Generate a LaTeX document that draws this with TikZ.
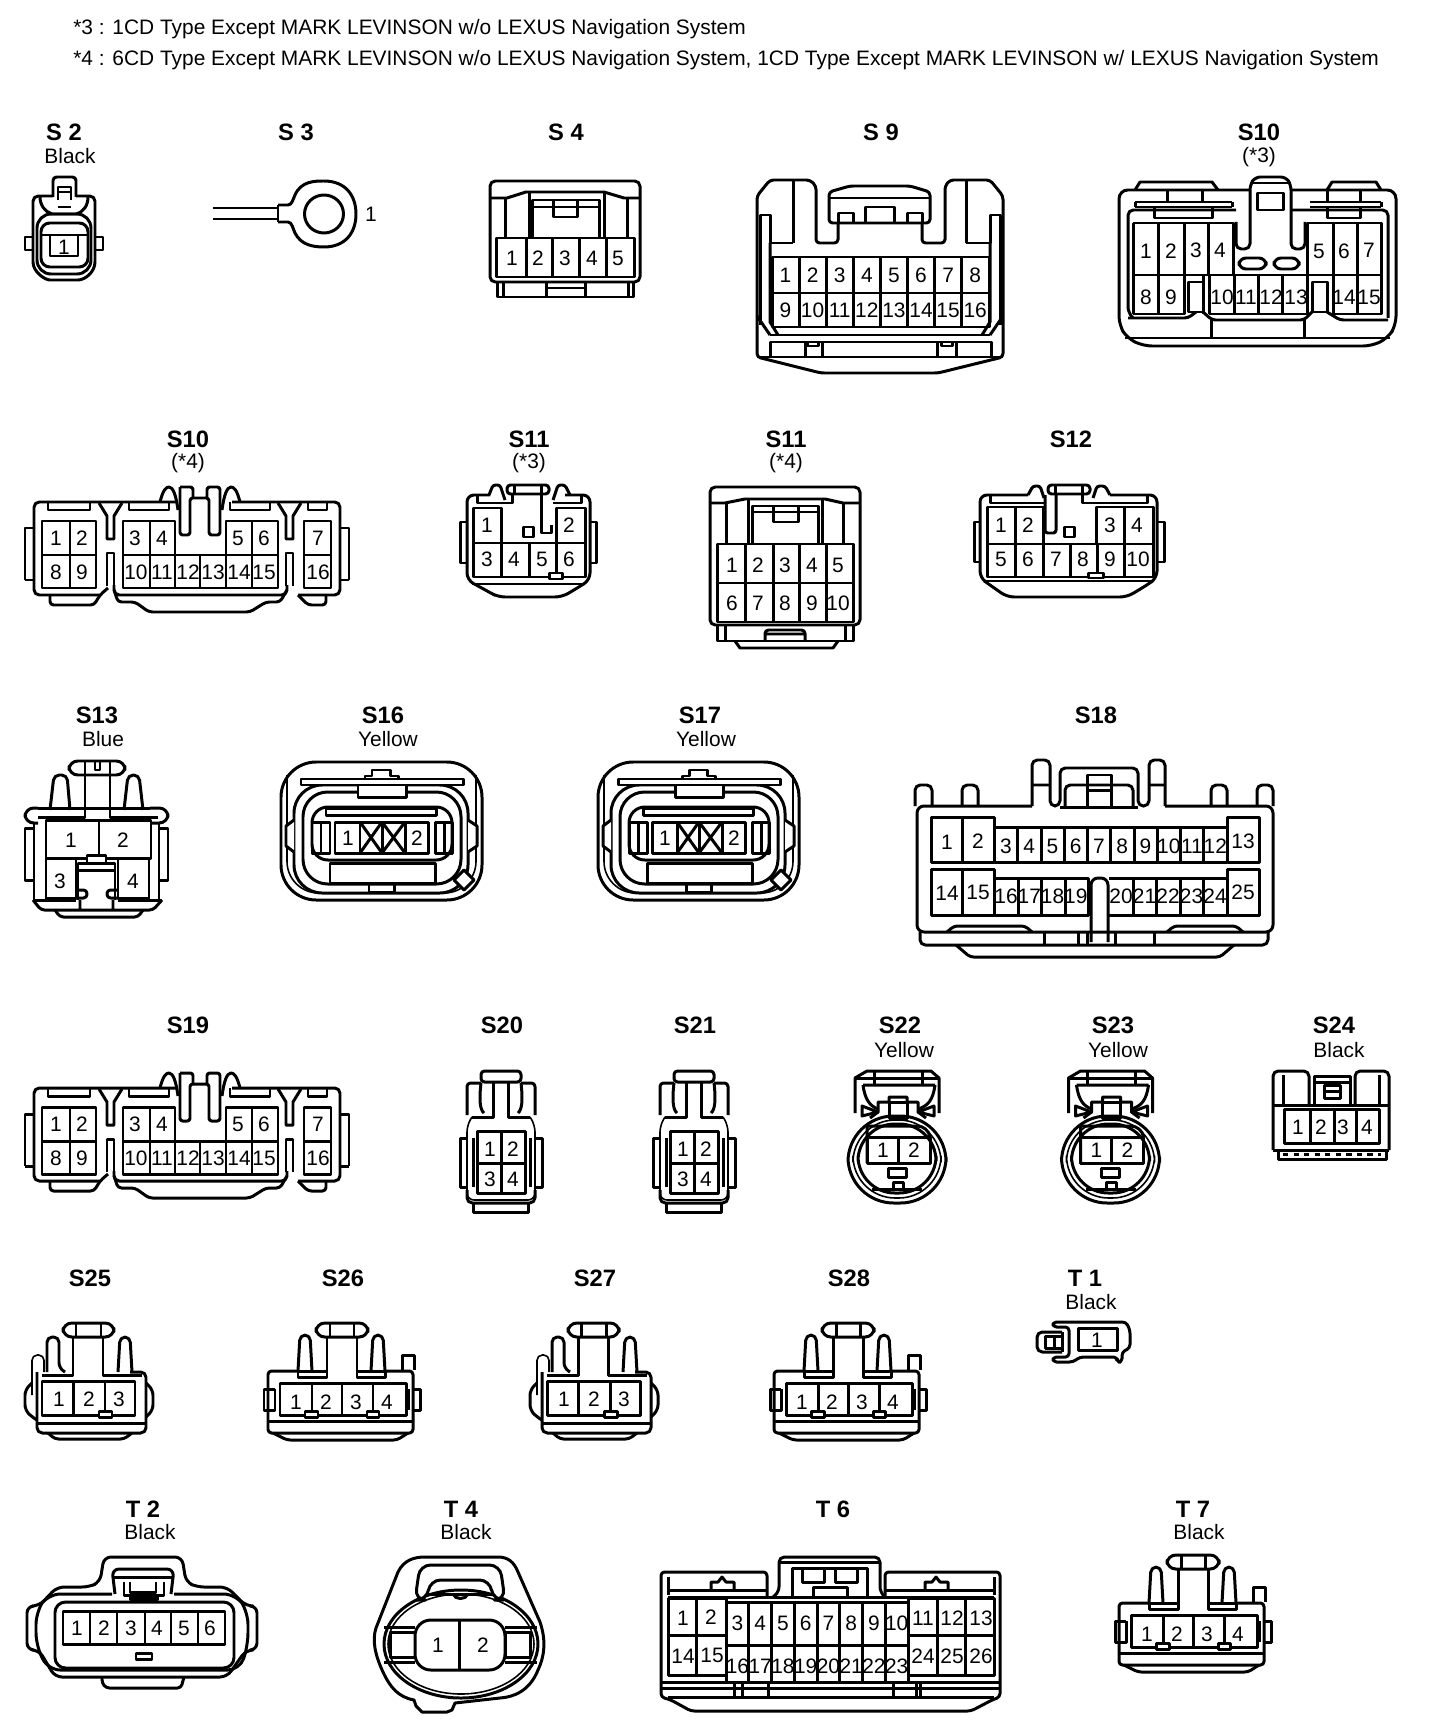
\documentclass[tikz,border=0pt]{standalone}
\usepackage{fontspec}
\setmainfont{Liberation Sans}
\newcommand{\pinfont}{\fontsize{11.9}{13}\selectfont}
\newcommand{\headfont}{\fontsize{13.5}{15}\selectfont\bfseries}
\tikzset{
	wall/.style={line width=1.7pt,line join=round},
	trim/.style={line width=0.9pt,line join=round},
	pin/.style={font=\pinfont,inner sep=0pt},
	head/.style={font=\headfont,inner sep=0pt},
	% 16 way connector, S10 (*4) and S19
	pics/sixteenway/.style={code={
		\draw[wall,rounded corners=3pt] (100,595) -- (34,595) -- (34,502) -- (177,502);
		\draw[wall,rounded corners=3pt] (232,502) -- (340,502) -- (340,595) -- (298,595);
		\draw[wall] (25,580) -- (25,528) -- (34,528) (25,580) -- (34,580);
		\draw[wall] (349,580) -- (349,528) -- (340,528) (349,580) -- (340,580);
		\draw[wall,rounded corners=1.5pt] (180,487) -- (180,535) -- (190,535) -- (190,498) -- (209,498) -- (209,535) -- (220,535) -- (220,487) -- (207,487) -- (207,498);
		\draw[wall,rounded corners=1.5pt] (180,487) -- (193,487) -- (193,498);
		\draw[wall] (160,502) .. controls (163,490) and (166,487) .. (169,487) .. controls (173,487) and (176,495) .. (178,510);
		\draw[wall] (240,502) .. controls (237,490) and (234,487) .. (231,487) .. controls (227,487) and (224,495) .. (222,510);
		\foreach \a/\b in {48/90,129/169,230/270,308/327}
			\draw[wall] (\a,502) -- (\a,510) -- (\b,510) -- (\b,502);
		\foreach \a in {107,286} {
			\draw[wall] (\a-8,503) -- (\a,516) -- (\a,539) -- (\a+7,539) -- (\a+7,516) -- (\a+15,503);
			\draw[wall] (\a,586) -- (\a,553) -- (\a+7,553) -- (\a+7,586);
		}
		\draw[wall] (42,521) rectangle (96,588) (42,555) -- (96,555) (70,521) -- (70,588);
		\draw[wall] (175,555) -- (175,521) -- (123,521) -- (123,588) -- (278,588) -- (278,521) -- (226,521) -- (226,555);
		\draw[wall] (123,555) -- (278,555);
		\foreach \a in {150,252} \draw[wall] (\a,521) -- (\a,588);
		\foreach \a in {175,200,226} \draw[wall] (\a,555) -- (\a,588);
		\draw[wall] (304,521) rectangle (331,588) (304,555) -- (331,555);
		\draw[wall,rounded corners=3pt] (114,585) -- (114,595) -- (287,595) -- (287,585);
		\draw[wall,rounded corners=2pt] (50,595) -- (50,605) -- (94,605) -- (100,595) -- (108,588);
		\draw[wall,rounded corners=2pt] (114,590) -- (118,602) -- (135,602) -- (149,612) -- (250,612) -- (266,602) -- (280,602) -- (287,590);
		\draw[wall,rounded corners=2pt] (298,595) -- (308,605) -- (326,605) -- (326,595);
		\foreach \n/\a/\b in {1/56/538,2/82/538,3/135/538,4/162/538,5/238/538,6/264/538,7/318/538,
			8/56/572,9/82/572,10/136/572,11/162/572,12/188/572,13/213/572,14/239/572,15/264/572,16/318/572}
			\node[pin] (p\n) at (\a,\b) {\n};
	}},
	% small 4 way, S20 and S21
	pics/fourway/.style={code={
		\draw[wall,rounded corners=2pt] (481,1071) rectangle (521,1082);
		\draw[wall,rounded corners=2pt] (467,1115) -- (467,1083) -- (481,1083);
		\draw[wall,rounded corners=2pt] (535,1115) -- (535,1083) -- (521,1083);
		\draw[wall] (481,1083) .. controls (479,1100) and (480,1110) .. (484,1113);
		\draw[wall] (521,1083) .. controls (523,1100) and (522,1110) .. (518,1113);
		\draw[wall] (493,1082) -- (493,1117) -- (472,1117);
		\draw[wall] (508,1082) -- (508,1117) -- (530,1117);
		\draw[trim,rounded corners=4pt] (530,1117) -- (535,1125) -- (535,1200) -- (467,1200) -- (467,1125) -- (472,1117);
		\draw[wall] (467,1187) -- (460,1187) -- (460,1138) -- (467,1138) (535,1187) -- (542,1187) -- (542,1138) -- (535,1138);
		\draw[wall] (473,1138) -- (473,1187) (530,1138) -- (530,1187);
		\draw[wall] (477,1131) rectangle (525,1193) (477,1163) -- (525,1163) (501,1131) -- (501,1193);
		\draw[wall,rounded corners=3pt] (467,1190) -- (467,1203) -- (535,1203) -- (535,1190);
		\draw[wall] (473,1203) -- (473,1212) -- (528,1212) -- (528,1203);
		\foreach \n/\a/\b in {1/490/1149,2/513/1149,3/490/1179,4/513/1179}
			\node[pin] (p\n) at (\a,\b) {\n};
	}},
	% oval 2 way, S22 and S23
	pics/twoway/.style={code={
		\draw[wall] (855,1113) -- (855,1078) -- (867,1071) -- (931,1071) -- (939,1078) -- (939,1113);
		\draw[wall] (855,1078) -- (939,1078) (874,1071) -- (874,1084) (922,1071) -- (922,1084);
		\draw[wall] (863,1085) .. controls (865,1100) and (870,1106) .. (878,1109) (935,1085) .. controls (933,1100) and (928,1106) .. (918,1109) (863,1085) -- (935,1085);
		\draw[wall] (870,1118) -- (878,1112) -- (878,1102) -- (889,1102) -- (889,1097) -- (907,1097) -- (907,1102) -- (918,1102) -- (918,1112) -- (926,1118);
		\draw[wall] (889,1102) rectangle (907,1118);
		\draw[wall] (862,1106) -- (878,1112) -- (862,1116) -- cycle (934,1106) -- (918,1112) -- (934,1116) -- cycle;
		\draw[wall,rounded corners=26pt] (848,1116) rectangle (946,1203);
		\draw[trim,rounded corners=24pt] (853,1120) rectangle (941,1198);
		\draw[wall,rounded corners=21pt] (858,1124) rectangle (936,1193);
		\draw[wall,rounded corners=6pt] (867,1126) -- (928,1126) -- (930,1137) (867,1126) -- (867,1163);
		\draw[wall] (867,1137) rectangle (930,1163) (898,1137) -- (898,1163);
		\draw[wall] (888,1168) rectangle (906,1177);
		\draw[wall] (893,1190) -- (893,1182) -- (903,1182) -- (903,1190);
		\draw[wall] (872,1189) -- (922,1189);
		\node[pin] (p1) at (883,1150) {1};
		\node[pin] (p2) at (914,1150) {2};
	}},
	% 3 way, S25 and S27
	pics/threeway/.style={code={
		\draw[wall,rounded corners=5pt] (63,1323) rectangle (114,1337);
		\draw[wall] (76,1323) -- (76,1337) (101,1323) -- (101,1337);
		\draw[wall] (73,1336) -- (73,1375) -- (42,1375) (103,1336) -- (103,1375) -- (142,1375);
		\draw[wall,rounded corners=3pt] (47,1372) -- (47,1337) -- (59,1337) -- (59,1368) -- (65,1372);
		\draw[wall,rounded corners=3pt] (118,1372) -- (120,1337) -- (130,1337) -- (132,1372);
		\draw[trim,rounded corners=3pt] (32,1395) -- (32,1355) -- (44,1355) -- (44,1372);
		\draw[wall,rounded corners=3pt] (37,1372) -- (37,1433) -- (146,1433) -- (146,1372) -- (130,1372);
		\draw[wall,rounded corners=3pt] (32,1383) -- (25,1390) -- (25,1410) -- (32,1417) -- (37,1420);
		\draw[wall,rounded corners=3pt] (146,1383) -- (153,1390) -- (153,1410) -- (146,1417);
		\draw[wall] (42,1381) rectangle (135,1415) (73.5,1381) -- (73.5,1415) (105,1381) -- (105,1415);
		\draw[wall,fill=white] (99,1411) rectangle (112,1417);
		\draw[wall] (37,1423) -- (146,1423);
		\draw[wall,rounded corners=2pt] (48,1433) -- (55,1439) -- (124,1439) -- (132,1433);
		\node[pin] (p1) at (59,1399) {1};
		\node[pin] (p2) at (89,1399) {2};
		\node[pin] (p3) at (119,1399) {3};
	}},
	% 4 way with corner post, S26, S28 and T 7
	pics/postfour/.style={code={
		\draw[wall,rounded corners=5pt] (316,1323) rectangle (368,1337);
		\draw[wall] (330,1323) -- (330,1337) (354,1323) -- (354,1337);
		\draw[wall] (327,1336) -- (327,1377) -- (298,1377) -- (298,1371) -- (327,1371);
		\draw[wall] (357,1336) -- (357,1377) -- (385,1377) -- (385,1371) -- (357,1371);
		\draw[wall,rounded corners=3pt] (298,1371) -- (300,1335) -- (310,1335) -- (312,1371);
		\draw[wall,rounded corners=3pt] (371,1371) -- (373,1335) -- (383,1335) -- (385,1371);
		\draw[wall] (402,1370) -- (402,1355) -- (414,1355) -- (414,1370);
		\draw[wall,rounded corners=2pt] (298,1371) -- (268,1371) -- (268,1433) -- (413,1433) -- (413,1371) -- (385,1371);
		\draw[wall] (268,1389) -- (264,1389) -- (264,1410) -- (268,1410) (275,1389) -- (268,1389) (275,1389) -- (275,1410) -- (268,1410);
		\draw[wall] (413,1389) -- (420,1389) -- (420,1410) -- (413,1410) (408,1389) -- (408,1410);
		\draw[wall] (280,1383) rectangle (406,1415) (312,1383) -- (312,1415) (342,1383) -- (342,1415) (373,1383) -- (373,1415);
		\draw[wall,fill=white] (305,1411) rectangle (318,1417) (367,1411) rectangle (379,1417);
		\draw[wall] (268,1421) -- (413,1421);
		\draw[wall,rounded corners=2pt] (273,1433) -- (287,1440) -- (397,1440) -- (408,1433);
		\foreach \n/\a in {1/296,2/326,3/356,4/387}
			\node[pin] (p\n) at (\a,1402) {\n};
	}},
	% sealed 2 way with blanked cavities, S16 and S17
	pics/sealedtwo/.style={code={
		\draw[wall,rounded corners=20pt] (281,762) rectangle (482,900);
		\draw[trim,rounded corners=18pt] (287,775) -- (287,893) -- (476,893) -- (476,775);
		\draw[wall,rounded corners=16pt] (294,785) rectangle (468,893);
		\draw[wall,fill=white] (294,820) -- (286,826) -- (286,846) -- (294,852) (468,820) -- (477,826) -- (477,846) -- (468,852);
		\draw[wall,rounded corners=14pt] (303,792) rectangle (461,884);
		\draw[wall,rounded corners=9pt] (312,807) rectangle (452,860);
		\draw[wall,fill=white] (330,863) rectangle (435,883);
		\draw[wall] (369,883) -- (369,892) -- (394,892) -- (394,883);
		\draw[wall,fill=white] (301,785) rectangle (463,779);
		\draw[wall,fill=white] (358,785) rectangle (406,797);
		\draw[wall] (365,779) -- (365,776) -- (372,776) -- (372,770) -- (390,770) -- (390,776) -- (398,776) -- (398,779);
		\draw[wall] (326,808) rectangle (436,815);
		\draw[wall] (335,822) rectangle (428,853) (360,822) -- (360,853) (382,822) -- (382,853) (405,822) -- (405,853);
		\draw[wall] (360,822) -- (382,853) (360,853) -- (382,822) (382,822) -- (405,853) (382,853) -- (405,822);
		\draw[wall] (312,822) rectangle (330,853) (321,822) -- (321,853) (435,822) rectangle (452,853) (444,822) -- (444,853);
		\draw[wall,fill=white] (464,870) -- (474,880) -- (464,890) -- (454,880) -- cycle;
		\node[pin] (p1) at (348,838) {1};
		\node[pin] (p2) at (417,838) {2};
	}}
}
\begin{document}
\begin{tikzpicture}[x=0.02cm,y=-0.02cm]
	\useasboundingbox (0,0) rectangle (1440,1736);

	\node[pin,anchor=west] (note3) at (73,29) {*3 : 1CD Type Except MARK LEVINSON w/o LEXUS Navigation System};
	\node[pin,anchor=west] (note4) at (73,60) {*4 : 6CD Type Except MARK LEVINSON w/o LEXUS Navigation System, 1CD Type Except MARK LEVINSON w/ LEXUS Navigation System};

	% names of the connectors
	\foreach \id/\txt/\a/\b in {s2/S 2/64/132,s3/S 3/296/132,s4/S 4/566/132,s9/S 9/881/132,s10a/S10/1259/132,
		s10b/S10/188/439,s11a/S11/529/439,s11b/S11/786/439,s12/S12/1071/439,
		s13/S13/97/715,s16/S16/383/715,s17/S17/700/715,s18/S18/1096/715,
		s19/S19/188/1025,s20/S20/502/1025,s21/S21/695/1025,s22/S22/900/1025,s23/S23/1113/1025,s24/S24/1334/1025,
		s25/S25/90/1278,s26/S26/343/1278,s27/S27/595/1278,s28/S28/849/1278,t1/T 1/1085/1278,
		t2/T 2/143/1509,t4/T 4/461/1509,t6/T 6/833/1509,t7/T 7/1193/1509}
		\node[head] (\id) at (\a,\b) {\txt};
	\foreach \id/\txt/\a/\b in {s2c/Black/70/156,s10c/(*3)/1259/157,s10d/(*4)/188/463,s11c/(*3)/529/463,s11d/(*4)/786/463,
		s13c/Blue/103/739,s16c/Yellow/388/739,s17c/Yellow/706/739,s22c/Yellow/904/1050,s23c/Yellow/1118/1050,s24c/Black/1339/1050,
		t1c/Black/1091/1302,t2c/Black/150/1532,t4c/Black/466/1532,t7c/Black/1199/1532}
		\node[pin] (\id) at (\a,\b) {\txt};

	% S 2
	\draw[wall,rounded corners=2pt] (53,197) -- (53,177) -- (76,177) -- (76,197);
	\draw[wall] (58,200) -- (58,187) -- (71,187) -- (71,200) (58,192) -- (71,192) (58,207) -- (71,207);
	\draw[wall,rounded corners=3pt] (33,262) -- (33,196) -- (53,196) (76,196) -- (95,196) -- (95,262);
	\draw[wall] (33,262) .. controls (33,272) and (45,280) .. (50,280) -- (78,280) .. controls (85,280) and (95,272) .. (95,262);
	\draw[wall] (40,197) .. controls (40,205) and (45,212) .. (52,214) -- (76,214) .. controls (84,212) and (88,205) .. (88,197);
	\draw[wall,rounded corners=8pt] (37,214) rectangle (91,274);
	\draw[wall,rounded corners=5pt] (41,223) rectangle (88,267);
	\draw[wall] (41,235) -- (88,235) (50,235) rectangle (78,256);
	\draw[wall] (33,237) -- (25,237) -- (25,250) -- (33,250) (95,237) -- (103,237) -- (103,250) -- (95,250);
	\node[pin] (s2p1) at (64,247) {1};

	% S 3
	\draw[wall] (213,208) -- (278,208) (213,219) -- (278,219);
	\draw[wall] (278,205) -- (278,222);
	\draw[wall] (278,205) -- (288,205) .. controls (292,205) and (293,199) .. (295,195) .. controls (301,181) and (315,181) .. (324,181) .. controls (345,181) and (356,195) .. (356,214) .. controls (356,233) and (345,247) .. (324,247) .. controls (313,247) and (301,245) .. (295,233) .. controls (293,229) and (292,222) .. (288,222) -- (278,222);
	\draw[wall] (324,214) ellipse [x radius=19.5,y radius=19];
	\node[pin] (s3p1) at (371,214) {1};

	% S 4
	\draw[wall,rounded corners=3pt] (490,282) -- (490,181) -- (640,181) -- (640,282) -- cycle;
	\draw[wall] (490,198) -- (507,198) -- (526,192) -- (604,192) -- (624,198) -- (640,198);
	\draw[wall] (505,198) -- (505,238) (529,192) -- (529,238) (604,192) -- (604,238) (627,198) -- (627,238);
	\draw[wall] (532,238) -- (532,200) -- (599,200) -- (599,238) (532,207) -- (599,207);
	\draw[wall] (553,200) -- (553,217) -- (577,217) -- (577,200);
	\draw[wall] (496,238) rectangle (634,277);
	\foreach \a in {526,552,579,606} \draw[wall] (\a,238) -- (\a,277);
	\draw[wall] (497,282) -- (497,297) -- (633,297) -- (633,282) (503,282) -- (503,297) (628,282) -- (628,297);
	\draw[wall] (546,282) -- (546,297) (585,282) -- (585,297) (546,288) -- (585,288);
	\foreach \n/\a in {1/512,2/538,3/565,4/592,5/618}
		\node[pin] (s4p\n) at (\a,258) {\n};

	% S 9
	\draw[wall,rounded corners=2pt] (757,345) -- (757,196) -- (770,180) -- (810,180) -- (816,186) -- (816,243) -- (838,243) -- (838,223);
	\draw[wall,rounded corners=2pt] (1003,345) -- (1003,196) -- (990,180) -- (950,180) -- (945,186) -- (945,243) -- (922,243) -- (922,223);
	\draw[wall] (793,180) -- (793,243) (966,180) -- (966,243);
	\draw[wall,rounded corners=2pt] (829,223) -- (829,192) -- (850,186) -- (910,186) -- (930,192) -- (930,223) -- cycle;
	\draw[wall] (829,198) -- (930,198) (865,223) -- (865,207) -- (894,207) -- (894,223);
	\draw[wall] (838,223) -- (838,213) -- (853,213) -- (853,223) (907,223) -- (907,213) -- (922,213) -- (922,223);
	\draw[wall] (760,325) -- (760,215) -- (770,215) -- (770,243) -- (793,243) (1000,325) -- (1000,215) -- (990,215) -- (990,243) -- (966,243);
	\draw[wall] (770,243) -- (770,322) -- (778,335) (990,243) -- (990,322) -- (982,335) (757,316) -- (770,335) (1003,316) -- (990,335);
	\draw[wall] (772,257) rectangle (989,327) (772,293) -- (989,293);
	\foreach \i in {1,...,7} \draw[wall] ({772+27.1*\i},257) -- ({772+27.1*\i},327);
	\draw[wall] (770,335) -- (990,335) (770,342) -- (990,342);
	\draw[wall] (770,342) rectangle (805,357) (822,342) rectangle (937,357) (956,342) rectangle (991,357);
	\draw[wall] (807,346) rectangle (818,342) (941,346) rectangle (952,342);
	\draw[wall,rounded corners=2pt] (757,345) -- (757,357) -- (821,373) -- (938,373) -- (1003,357) -- (1003,345);
	\draw[wall] (757,357) -- (1003,357);
	\foreach \n [count=\i from 0] in {1,...,8}
		\node[pin] (s9p\n) at ({785.5+27.1*\i},275) {\n};
	\foreach \n [count=\i from 0] in {9,...,16}
		\node[pin] (s9p\n) at ({785.5+27.1*\i},310) {\n};

	% S10 (*3)
	\draw[wall,rounded corners=5pt] (1250,190) -- (1119,190) -- (1119,325) -- (1127,338) -- (1143,346) -- (1372,346) -- (1388,338) -- (1396,325) -- (1396,190) -- (1291,190);
	\draw[wall] (1135,190) -- (1140,182) -- (1212,182) -- (1218,190) (1327,190) -- (1332,182) -- (1376,182) -- (1381,190);
	\draw[wall] (1167,190) -- (1167,202) (1202,190) -- (1202,202) (1327,190) -- (1327,202) (1360,190) -- (1360,202);
	\draw[wall] (1135,202) -- (1232,202) (1135,207) -- (1232,207) (1135,202) -- (1135,207) (1232,202) -- (1232,207);
	\draw[wall] (1310,202) -- (1381,202) (1310,207) -- (1381,207) (1381,202) -- (1381,207);
	\draw[wall] (1154,207) -- (1154,218) -- (1212,218) -- (1212,207) (1327,207) -- (1327,218) -- (1360,218) -- (1360,207);
	\draw[wall,rounded corners=3pt] (1236,222) -- (1236,249) -- (1250,249) -- (1250,185) -- (1255,177) -- (1286,177) -- (1291,185) -- (1291,249) -- (1305,249) -- (1305,222);
	\draw[wall] (1250,183) -- (1291,183) (1257,193) rectangle (1283,210);
	\draw[wall,rounded corners=3pt] (1236,210) -- (1128,210) -- (1128,312) -- (1133,318);
	\draw[wall,rounded corners=3pt] (1291,210) -- (1388,210) -- (1388,318);
	\draw[wall] (1133,223) -- (1233,223) -- (1233,275) (1158,223) -- (1158,314) (1184,223) -- (1184,275) (1208,223) -- (1208,275) (1133,223) -- (1133,314);
	\draw[wall] (1133,275) -- (1381,275) (1133,314) -- (1184,314) -- (1184,275) (1203,275) -- (1203,314) (1209,275) -- (1209,314);
	\draw[wall] (1188,282) rectangle (1203,312) (1312,282) rectangle (1327,312);
	\draw[wall] (1209,314) -- (1307,314) -- (1307,223) (1234,275) -- (1234,314) (1258,275) -- (1258,314) (1282,275) -- (1282,314);
	\draw[wall] (1307,223) -- (1381,223) -- (1381,314) -- (1333,314) -- (1333,223) (1357,223) -- (1357,314);
	\draw[wall,rounded corners=2pt] (1128,318) -- (1188,318) -- (1196,312) (1203,312) -- (1212,320) -- (1304,320) -- (1312,312) (1327,312) -- (1340,320) -- (1388,320);
	\draw[wall] (1211,320) -- (1211,338) (1304,320) -- (1304,338) (1125,338) -- (1390,338);
	\draw[wall,rounded corners=4pt] (1239,258) rectangle (1266,269) (1274,258) rectangle (1299,269);
	\foreach \n/\a/\b in {1/1146/251,2/1171/251,3/1196/250,4/1220/250,5/1319/251,6/1344/251,7/1369/250,
		8/1146/297,9/1171/297,10/1222/297,11/1246/297,12/1271/297,13/1296/297,14/1344/297,15/1369/297}
		\node[pin] (s10ap\n) at (\a,\b) {\n};

	% S10 (*4) and S19
	\pic (s10b) at (0,0) {sixteenway};
	\pic (s19) at (0,586) {sixteenway};

	% S11 (*3)
	\draw[wall,rounded corners=4pt] (490,495) -- (467,495) -- (467,580) -- (489,592) -- (498,597) -- (562,597) -- (574,590) -- (590,580) -- (590,495) -- (565,495);
	\draw[wall] (467,563) -- (460,563) -- (460,522) -- (467,522) (590,563) -- (596,563) -- (596,522) -- (590,522);
	\draw[wall,rounded corners=1.5pt] (489,495) -- (493,485) -- (500,485) -- (505,500) (553,500) -- (558,485) -- (565,485) -- (570,495);
	\draw[wall,rounded corners=2pt] (507,494) -- (507,485) -- (549,485) -- (549,494) -- cycle;
	\draw[wall] (514,485) -- (514,494) (541,485) -- (541,494);
	\draw[wall] (477,495) -- (477,503) -- (512,503) -- (512,495) (553,503) -- (581,503) -- (581,495);
	\draw[wall] (541,494) -- (541,533) -- (551,533) -- (551,525);
	\draw[wall] (473,508) rectangle (501,543) (556,508) rectangle (585,543);
	\draw[wall] (473,543) rectangle (585,577) (501,543) -- (501,577) (529,543) -- (529,577) (556,543) -- (556,577);
	\draw[wall] (523,527) rectangle (533,537);
	\draw[wall,fill=white] (549,573) rectangle (562,579);
	\draw[wall] (472,584) -- (585,584);
	\foreach \n/\a/\b in {1/487/525,2/569/525,3/487/559,4/514/559,5/542/559,6/569/559}
		\node[pin] (s11ap\n) at (\a,\b) {\n};

	% S11 (*4)
	\draw[wall,rounded corners=3pt] (710,625) -- (710,487) -- (860,487) -- (860,625) -- cycle;
	\draw[wall] (710,503) -- (725,503) -- (745,499) -- (825,499) -- (843,503) -- (860,503);
	\draw[wall] (726,503) -- (726,544) (843,503) -- (843,544) (748,499) -- (748,544) (822,499) -- (822,544);
	\draw[wall] (752,544) -- (752,506) -- (818,506) -- (818,544) (753,512) -- (817,512);
	\draw[wall] (773,506) -- (773,522) -- (798,522) -- (798,506);
	\draw[wall] (717,544) rectangle (853,622) (717,583) -- (853,583);
	\foreach \a in {745,773,799,826} \draw[wall] (\a,544) -- (\a,622);
	\draw[wall] (717,625) -- (717,641) -- (853,641) -- (853,625) (725,625) -- (725,641) (845,625) -- (845,641);
	\draw[wall,rounded corners=2pt] (765,641) -- (765,630) -- (805,630) -- (805,641) (765,634) -- (805,634);
	\draw[wall] (735,641) -- (740,648) -- (833,648) -- (838,641);
	\foreach \n/\a in {1/732,2/758,3/785,4/812,5/838}
		\node[pin] (s11bp\n) at (\a,565) {\n};
	\foreach \n/\a in {6/732,7/758,8/785,9/812,10/838}
		\node[pin] (s11bp\n) at (\a,603) {\n};

	% S12
	\draw[wall,rounded corners=4pt] (1028,495) -- (980,495) -- (980,578) -- (990,585) -- (1007,597) -- (1127,597) -- (1147,585) -- (1157,578) -- (1157,495) -- (1110,495);
	\draw[wall] (980,562) -- (974,562) -- (974,522) -- (980,522) (1157,562) -- (1164,562) -- (1164,522) -- (1157,522);
	\draw[wall,rounded corners=1.5pt] (1028,495) -- (1033,486) -- (1040,486) -- (1044,498) (1093,498) -- (1097,486) -- (1105,486) -- (1110,495);
	\draw[wall,rounded corners=2pt] (1048,494) -- (1048,485) -- (1090,485) -- (1090,494) -- cycle;
	\draw[wall] (1055,485) -- (1055,494) (1082,485) -- (1082,494);
	\draw[wall] (990,495) -- (990,503) -- (1045,503) (1082,494) -- (1082,503) -- (1147,503) -- (1147,495);
	\draw[wall,rounded corners=1.5pt] (1045,495) -- (1045,533) -- (1056,533) -- (1056,494);
	\draw[wall] (987,507) rectangle (1043,544) (1015,507) -- (1015,577);
	\draw[wall] (1096,507) rectangle (1153,544) (1124,507) -- (1124,577);
	\draw[wall] (987,544) rectangle (1153,577) (1043,544) -- (1043,577) (1070,544) -- (1070,577) (1097,544) -- (1097,577);
	\draw[wall] (1064,527) rectangle (1074,537);
	\draw[wall,fill=white] (1088,573) rectangle (1103,578);
	\draw[wall] (985,581) -- (1153,581);
	\foreach \n/\a/\b in {1/1001/525,2/1028/525,3/1110/525,4/1137/525,5/1001/559,6/1028/559,7/1056/559,8/1083/559,9/1110/559,10/1138/559}
		\node[pin] (s12p\n) at (\a,\b) {\n};

	% S13
	\draw[wall,rounded corners=5pt] (69,761) rectangle (125,775);
	\draw[wall] (85,761) -- (85,775) (110,761) -- (110,775) (95,761) -- (95,770) -- (100,770) -- (100,761);
	\draw[wall] (85,775) -- (85,817) -- (38,817) (110,775) -- (110,817) -- (158,817);
	\draw[wall,rounded corners=3pt] (50,810) -- (54,775) -- (67,775) -- (70,810);
	\draw[wall,rounded corners=3pt] (124,810) -- (128,775) -- (139,775) -- (143,810);
	\draw[wall,rounded corners=5pt] (38,808) -- (25,808) -- (25,823) -- (38,823);
	\draw[wall,rounded corners=5pt] (150,808) -- (168,808) -- (168,823) -- (150,823);
	\draw[wall] (38,808) -- (150,808);
	\draw[wall] (25,828) rectangle (34,880) (159,828) rectangle (168,880);
	\draw[wall] (34,823) -- (34,900) (159,823) -- (159,900);
	\draw[wall] (46,820) rectangle (151,858) (99,820) -- (99,858);
	\draw[wall] (46,858) rectangle (76,898) (118,858) rectangle (149,898);
	\draw[wall] (33,900) -- (76,900) (118,900) -- (162,900);
	\draw[wall,fill=white] (87,855) rectangle (106,863);
	\draw[wall] (78,900) -- (78,863) -- (115,863) -- (115,900) (78,870) -- (115,870);
	\draw[wall,rounded corners=2pt] (76,890) -- (87,890) -- (87,898) -- (76,898) (118,890) -- (107,890) -- (107,898) -- (118,898);
	\draw[wall,rounded corners=2pt] (33,900) -- (41,910) -- (153,910) -- (162,900) (80,900) -- (80,910) (113,900) -- (113,910);
	\draw[wall,rounded corners=2pt] (55,910) -- (60,917) -- (138,917) -- (143,910);
	\foreach \n/\a/\b in {1/71/840,2/123/840,3/60/881,4/133/881}
		\node[pin] (s13p\n) at (\a,\b) {\n};

	% S16 and S17
	\pic (s16) at (0,0) {sealedtwo};
	\pic (s17) at (317,0) {sealedtwo};

	% S18
	\draw[wall,rounded corners=4pt] (1032,806) -- (917,806) -- (917,932) -- (1273,932) -- (1273,806) -- (1165,806);
	\draw[wall,rounded corners=3pt] (915,806) -- (915,785) -- (932,785) -- (932,806);
	\draw[wall,rounded corners=3pt] (962,806) -- (962,785) -- (978,785) -- (978,806);
	\draw[wall,rounded corners=3pt] (1211,806) -- (1211,785) -- (1227,785) -- (1227,806);
	\draw[wall,rounded corners=3pt] (1257,806) -- (1257,785) -- (1273,785) -- (1273,806);
	\draw[wall,rounded corners=3pt] (1032,806) -- (1032,760) -- (1050,760) -- (1050,806) -- (1060,806) -- (1060,768) -- (1138,768) -- (1138,806) -- (1149,806) -- (1149,760) -- (1165,760) -- (1165,806);
	\draw[wall,rounded corners=3pt] (1032,785) -- (1050,785) (1149,785) -- (1165,785) (1065,806) -- (1065,785) -- (1133,785) -- (1133,806);
	\draw[wall] (1087,807) -- (1087,775) -- (1111,775) -- (1111,807) (1087,790) -- (1111,790) (1060,807) -- (1138,807);
	\draw[wall] (931,817) rectangle (994.5,862) (962,817) -- (962,862) (1227,817) rectangle (1259,862) (994.5,827) -- (1227,827);
	\draw[wall] (994.5,862) -- (1227,862);
	\foreach \i in {1,...,9} \draw[wall] ({994.5+23.25*\i},827) -- ({994.5+23.25*\i},862);
	\draw[wall] (931,869) rectangle (994.5,915) (962,869) -- (962,915) (1227,869) rectangle (1259,915);
	\draw[wall] (994.5,878) -- (1088,878) -- (1088,915) -- (994.5,915) (1109,878) -- (1227,878) (1109,915) -- (1227,915);
	\foreach \a in {1018,1041,1065,1133,1156,1180,1203} \draw[wall] (\a,878) -- (\a,915);
	\draw[wall,rounded corners=4pt] (1091,942) -- (1091,878) -- (1108,878) -- (1108,942);
	\draw[wall,rounded corners=3pt] (920,932) -- (920,945) -- (1268,945) -- (1268,932);
	\draw[wall] (1044,932) -- (1044,945) (1078,932) -- (1078,945) (1087,932) -- (1087,945) (1115,932) -- (1115,945) (1154,932) -- (1154,945);
	\draw[wall,rounded corners=2pt] (956,945) -- (970,957) -- (1220,957) -- (1234,945);
	\draw[wall,rounded corners=2pt] (947,932) -- (954,926) -- (1025,926) -- (1032,932) (1167,932) -- (1174,926) -- (1236,926) -- (1243,932);
	\foreach \n/\a/\b in {1/947/842,2/978/841,13/1243/841,14/947/893,15/978/892,25/1243/892}
		\node[pin] (s18p\n) at (\a,\b) {\n};
	\foreach \n [count=\i from 0] in {3,...,12}
		\node[pin] (s18p\n) at ({1006+23.25*\i},846) {\n};
	\foreach \n [count=\i from 0] in {16,...,19}
		\node[pin] (s18p\n) at ({1006+23.25*\i},896) {\n};
	\foreach \n [count=\i from 0] in {20,...,24}
		\node[pin] (s18p\n) at ({1121+23.5*\i},896) {\n};

	% S20 and S21
	\pic (s20) at (0,0) {fourway};
	\pic (s21) at (193,0) {fourway};

	% S22 and S23
	\pic (s22) at (0,0) {twoway};
	\pic (s23) at (213.5,0) {twoway};

	% S24
	\draw[wall,rounded corners=3pt] (1273,1150) -- (1273,1071) -- (1309,1071) -- (1309,1105);
	\draw[wall,rounded corners=3pt] (1389,1150) -- (1389,1071) -- (1355,1071) -- (1355,1105);
	\draw[wall] (1283,1075) -- (1283,1105) (1379,1075) -- (1379,1105) (1273,1105) -- (1309,1105) (1355,1105) -- (1389,1105);
	\draw[wall] (1314,1105) -- (1314,1076) -- (1350,1076) -- (1350,1105) (1314,1082) -- (1350,1082);
	\draw[wall] (1324,1085) rectangle (1340,1098) (1324,1091) -- (1340,1091) (1309,1105) -- (1355,1105);
	\draw[wall] (1284,1109) rectangle (1379,1143) (1310,1109) -- (1310,1143) (1334,1109) -- (1334,1143) (1356,1109) -- (1356,1143);
	\draw[wall] (1273,1150) -- (1389,1150);
	\draw[wall] (1278,1150) -- (1278,1159) -- (1386,1159) -- (1386,1150);
	\draw[wall,dashed] (1283,1154) -- (1381,1154);
	\foreach \n/\a in {1/1298,2/1321,3/1343,4/1367}
		\node[pin] (s24p\n) at (\a,1127) {\n};

	% S25 to S28
	\pic (s25) at (0,0) {threeway};
	\pic (s27) at (505,0) {threeway};
	\pic (s26) at (0,0) {postfour};
	\pic (s28) at (506,0) {postfour};

	% T 1
	\draw[wall,rounded corners=2pt] (1053,1322) -- (1126,1322) -- (1130,1330) -- (1130,1348) -- (1122,1352) -- (1122,1362) -- (1117,1362) -- (1117,1357) -- (1080,1357) -- (1073,1362) -- (1053,1362) -- (1053,1357) -- (1069,1357) -- (1069,1327) -- (1053,1327) -- cycle;
	\draw[wall] (1078,1328) rectangle (1117,1350);
	\draw[wall,rounded corners=3pt] (1062,1332) -- (1037,1332) -- (1037,1352) -- (1062,1352);
	\draw[wall] (1045,1336) rectangle (1062,1348) (1054,1336) -- (1054,1348) (1062,1332) -- (1062,1352);
	\node[pin] (t1p1) at (1097,1340) {1};

	% T 2
	\draw[wall,rounded corners=4pt] (100,1582) -- (104,1557) -- (182,1557) -- (186,1582) -- (197,1587) -- (227,1587) -- (246,1606) -- (257,1606) -- (257,1650) -- (246,1650) -- (227,1677) -- (55,1677) -- (39,1650) -- (27,1650) -- (27,1606) -- (39,1606) -- (57,1587) -- (89,1587) -- cycle;
	\draw[wall,rounded corners=7pt] (112,1594) -- (48,1594) -- (36,1612) -- (36,1645) -- (48,1670) -- (240,1670) -- (248,1645) -- (248,1612) -- (236,1594) -- (174,1594);
	\draw[wall,rounded corners=6pt] (55,1602) rectangle (234,1668);
	\draw[wall] (63,1611) rectangle (225,1644);
	\foreach \a in {90,117,145,171,198} \draw[wall] (\a,1611) -- (\a,1644);
	\draw[wall] (136,1653) rectangle (152,1659);
	\draw[wall,rounded corners=2pt] (102,1677) -- (102,1683) -- (106,1688) -- (181,1688) -- (184,1677);
	\draw[wall,rounded corners=4pt] (115,1594) -- (112,1569) -- (174,1569) -- (171,1594);
	\draw[wall] (124,1582) -- (124,1595) -- (164,1595) -- (164,1582) (114,1577) -- (172,1577);
	\draw[wall] (130,1582) -- (130,1592) -- (156,1592) -- (156,1582);
	\draw[wall,fill=black] (130,1595) rectangle (158,1599);
	\foreach \n/\a in {1/77,2/104,3/131,4/157,5/184,6/210}
		\node[pin] (t2p\n) at (\a,1628) {\n};

	% T 4
	\draw[wall] (425,1557) -- (498,1557) .. controls (508,1557) and (514,1562) .. (518,1572) -- (540,1622) .. controls (546,1640) and (545,1655) .. (538,1670) .. controls (530,1690) and (515,1697) .. (500,1698) -- (455,1703) -- (452,1710) -- (447,1712) -- (422,1712) -- (416,1706) -- (414,1700) .. controls (398,1697) and (390,1687) .. (383,1672) .. controls (375,1655) and (372,1640) .. (376,1628) -- (398,1572) .. controls (404,1560) and (414,1557) .. (425,1557) -- cycle;
	\draw[wall] (461,1644) ellipse [x radius=77,y radius=54];
	\draw[trim] (461,1644) ellipse [x radius=73,y radius=50];
	\draw[wall,fill=white,rounded corners=6pt] (415,1600) -- (420,1565) -- (500,1565) -- (505,1600) -- (493,1600) -- (490,1580) -- (430,1580) -- (427,1600) -- cycle;
	\draw[wall] (427,1594) -- (493,1594);
	\draw[wall] (453,1594) .. controls (455,1600) and (466,1600) .. (468,1594);
	\draw[wall] (390,1632) rectangle (415,1657) (505,1632) rectangle (530,1657);
	\draw[wall] (384,1627) -- (415,1627) (384,1662) -- (415,1662) (505,1627) -- (537,1627) (505,1662) -- (537,1662);
	\draw[wall,fill=white,rounded corners=9pt] (415,1620) rectangle (505,1670);
	\draw[wall] (459,1620) -- (459,1670);
	\node[pin] (t4p1) at (438,1645) {1};
	\node[pin] (t4p2) at (483,1645) {2};

	% T 6
	\draw[wall,rounded corners=2pt] (767,1597) -- (767,1572) -- (661,1572) -- (661,1697) -- (671,1700) -- (691,1711) -- (971,1711) -- (992,1700) -- (1000,1697) -- (1000,1572) -- (885,1572) -- (885,1597);
	\draw[wall] (668,1577) -- (668,1595) (994,1577) -- (994,1595) (668,1590) -- (767,1590) (885,1590) -- (994,1590);
	\draw[wall] (711,1590) -- (711,1582) -- (718,1582) -- (722,1577) -- (726,1582) -- (734,1582) -- (734,1590);
	\draw[wall] (925,1590) -- (925,1582) -- (932,1582) -- (936,1577) -- (940,1582) -- (948,1582) -- (948,1590);
	\draw[wall,rounded corners=3pt] (773,1597) -- (779,1592) -- (779,1557) -- (880,1557) -- (880,1592) -- (885,1597);
	\draw[wall] (792,1597) -- (792,1568) -- (867,1568) -- (867,1597) (779,1562) -- (880,1562);
	\draw[wall] (802,1568) rectangle (824,1582) (835,1568) rectangle (857,1582) (813,1597) -- (813,1587) -- (847,1587) -- (847,1597);
	\draw[wall] (668,1597) -- (994,1597);
	\draw[wall] (668,1598) rectangle (726,1675) (668,1635) -- (726,1635) (696,1598) -- (696,1675);
	\draw[wall] (726,1602) rectangle (908,1682) (726,1645) -- (908,1645);
	\foreach \i in {1,...,7} \draw[wall] ({726+22.75*\i},1602) -- ({726+22.75*\i},1682);
	\draw[wall] (908,1598) rectangle (994,1675) (908,1635) -- (994,1635) (937,1598) -- (937,1675) (965,1598) -- (965,1675);
	\draw[wall] (661,1682) -- (1000,1682) (661,1688) -- (1000,1688) (668,1697) -- (994,1697);
	\foreach \a in {734,742,768,893,916,920} \draw[wall] (\a,1682) -- (\a,1697);
	\foreach \n/\a/\b in {1/683/1618,2/711/1617,11/923/1618,12/952/1618,13/981/1618,14/683/1656,15/712/1655,24/923/1656,25/952/1656,26/981/1656}
		\node[pin] (t6p\n) at (\a,\b) {\n};
	\foreach \n [count=\i from 0] in {3,...,10}
		\node[pin] (t6p\n) at ({737.4+22.75*\i},1623) {\n};
	\foreach \n [count=\i from 0] in {16,...,23}
		\node[pin] (t6p\n) at ({737.4+22.75*\i},1666) {\n};

	% T 7
	\pic (t7) at (851,232) {postfour};
\end{tikzpicture}
\end{document}
